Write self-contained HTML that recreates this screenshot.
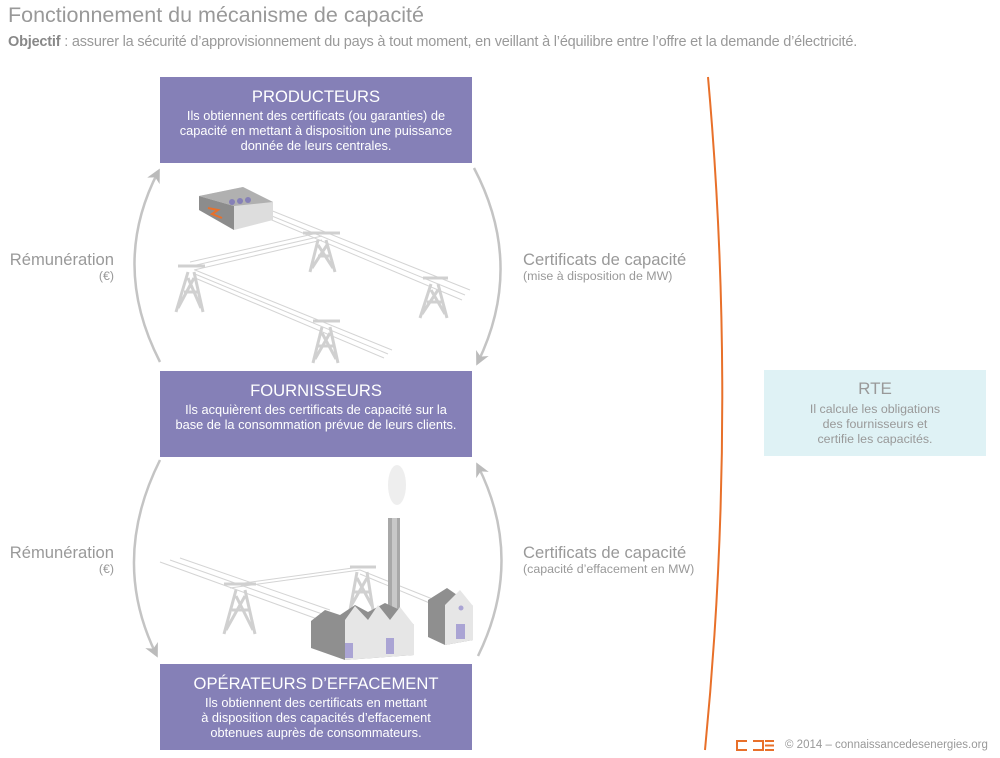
<!DOCTYPE html>
<html><head><meta charset="utf-8"><style>
body{margin:0;width:1000px;height:758px;background:#fff;font-family:"Liberation Sans",sans-serif;position:relative;overflow:hidden;color:#999}
.a{position:absolute}
.box{position:absolute;left:160px;width:312px;height:86px;background:#8580b7;color:#fff;text-align:center}
.box h{display:block;font-size:16.6px;margin-top:10px;line-height:19px}
.box p{margin:2px 0 0;font-size:12.8px;line-height:15px}
.lab{font-size:16.6px;color:#999;line-height:18px}
.sm{font-size:12.4px;color:#999;line-height:14px}
</style></head><body>
<div class="a" style="left:8px;top:3px;font-size:21.5px;color:#999">Fonctionnement du mécanisme de capacité</div>
<div class="a" style="left:8px;top:34px;font-size:14.5px;color:#999;letter-spacing:-0.2px"><b style="color:#888">Objectif</b> : assurer la sécurité d’approvisionnement du pays à tout moment, en veillant à l’équilibre entre l’offre et la demande d’électricité.</div>

<svg class="a" style="left:0;top:0" width="1000" height="758">
<defs><marker id="ar" markerUnits="userSpaceOnUse" markerWidth="20" markerHeight="20" refX="10" refY="8" orient="auto"><path d="M0,1 L14,8 L0,15 L4,8z" fill="#bbb"/></marker></defs>
<g fill="none" stroke="#c4c4c4" stroke-width="2.5">
<path d="M160,362 Q110,265 158,172" marker-end="url(#ar)"/>
<path d="M474,168 Q525,265 478,362" marker-end="url(#ar)"/>
<path d="M160,460 Q110,560 156,654" marker-end="url(#ar)"/>
<path d="M478,656 Q525,560 478,466" marker-end="url(#ar)"/>
</g>
<path d="M708,77 Q738,413 705,750" fill="none" stroke="#e8702a" stroke-width="2"/>
<g stroke="#d4d4d4" stroke-width="1" fill="none">
<path d="M245,200 L470,290 M245,205 L465,295 M248,210 L462,300"/>
<path d="M190,262 L322,232 M192,266 L322,236 M194,270 L322,240"/>
<path d="M195,270 L392,350 M195,274 L388,354 M195,278 L384,358"/>
</g>
<g fill="none" stroke="#d0d0d0" stroke-width="3">
<path d="M303,233 H340 M318,240 L310,272 M326,240 L335,272 M318,245 L333,268 M327,245 L312,268 M318,256 H329"/>
<path d="M178,266 H205 M188,272 L176,312 M194,272 L203,312 M188,278 L201,308 M194,278 L178,308 M184,292 H198"/>
<path d="M423,278 H448 M431,284 L420,318 M438,284 L447,318 M431,290 L445,314 M438,290 L422,314 M427,302 H442"/>
<path d="M313,321 H340 M322,327 L313,363 M330,327 L338,363 M322,333 L336,359 M330,333 L315,359 M318,346 H334"/>
</g>
<polygon points="199,196 243,187 273,202 273,220 234,230 199,210" fill="#ddd"/>
<polygon points="199,196 234,206 234,230 199,210" fill="#8c8c8c"/>
<polygon points="199,196 243,187 273,202 234,206" fill="#b0b0b0"/>
<path d="M208,208 L218,210 L212,214 L222,218" stroke="#e8702a" stroke-width="2" fill="none"/>
<circle cx="232" cy="202" r="3" fill="#8580b7"/><circle cx="240" cy="201" r="3" fill="#8580b7"/><circle cx="248" cy="200" r="3" fill="#8580b7"/>
<g stroke="#d4d4d4" stroke-width="1" fill="none">
<path d="M160,562 L320,620 M170,560 L325,615 M180,558 L330,610"/>
<path d="M230,585 L360,567 M230,588 L360,570"/>
<path d="M360,570 L435,600 M360,574 L432,604"/>
</g>
<g fill="none" stroke="#d0d0d0" stroke-width="3">
<path d="M224,584 H256 M236,590 L224,634 M245,590 L255,634 M236,596 L253,630 M245,596 L226,630 M232,610 H249"/>
<path d="M350,567 H376 M357,572 L350,610 M367,572 L373,610 M357,578 L372,606 M367,578 L351,606 M354,592 H370"/>
</g>
<ellipse cx="397" cy="485" rx="9" ry="20" fill="#eee"/>
<rect x="388" y="518" width="12" height="110" fill="#a8a8a8"/>
<rect x="392" y="518" width="5" height="110" fill="#c8c8c8"/>
<polygon points="311,621 325,610 340,615 355,605 368,612 385,603 400,610 414,625 414,655 345,660 311,648" fill="#8f8f8f"/>
<polygon points="345,620 355,606 368,620 378,605 390,620 400,607 414,625 414,655 345,660" fill="#e6e6e6"/>
<rect x="345" y="643" width="8" height="15" fill="#aaa4d4"/><rect x="386" y="638" width="8" height="16" fill="#aaa4d4"/>
<polygon points="428,600 447,588 473,606 473,640 445,645 428,637" fill="#8f8f8f"/>
<polygon points="445,605 460,590 473,606 473,640 445,645" fill="#e6e6e6"/>
<rect x="456" y="624" width="9" height="15" fill="#aaa4d4"/><circle cx="461" cy="608" r="2.5" fill="#aaa4d4"/>
<path d="M747,741 H737 V750 H747 M753,741 H763 V750 H753 M774,741 H765 M774,745.5 H765 M774,750 H765" stroke="#e8702a" stroke-width="2" fill="none"/>
</svg>

<div class="box" style="top:77px"><h>PRODUCTEURS</h><p>Ils obtiennent des certificats (ou garanties) de<br>capacité en mettant à disposition une puissance<br>donnée de leurs centrales.</p></div>
<div class="box" style="top:371px"><h>FOURNISSEURS</h><p>Ils acquièrent des certificats de capacité sur la<br>base de la consommation prévue de leurs clients.</p></div>
<div class="box" style="top:664px"><h>OPÉRATEURS D’EFFACEMENT</h><p>Ils obtiennent des certificats en mettant<br>à disposition des capacités d’effacement<br>obtenues auprès de consommateurs.</p></div>

<div class="a" style="left:764px;top:370px;width:222px;height:86px;background:#dff2f5;text-align:center">
<div style="font-size:17px;margin-top:9px;color:#999">RTE</div>
<div style="font-size:12.4px;line-height:15px;margin-top:3px;color:#999">Il calcule les obligations<br>des fournisseurs et<br>certifie les capacités.</div></div>

<div class="a lab" style="right:886px;top:251px;text-align:right">Rémunération<div class="sm">(€)</div></div>
<div class="a lab" style="right:886px;top:544px;text-align:right">Rémunération<div class="sm">(€)</div></div>
<div class="a lab" style="left:523px;top:251px">Certificats de capacité<div class="sm">(mise à disposition de MW)</div></div>
<div class="a lab" style="left:523px;top:544px">Certificats de capacité<div class="sm">(capacité d’effacement en MW)</div></div>
<div class="a" style="left:785px;top:739px;font-size:11.5px;color:#999">© 2014 – connaissancedesenergies.org</div>
</body></html>
